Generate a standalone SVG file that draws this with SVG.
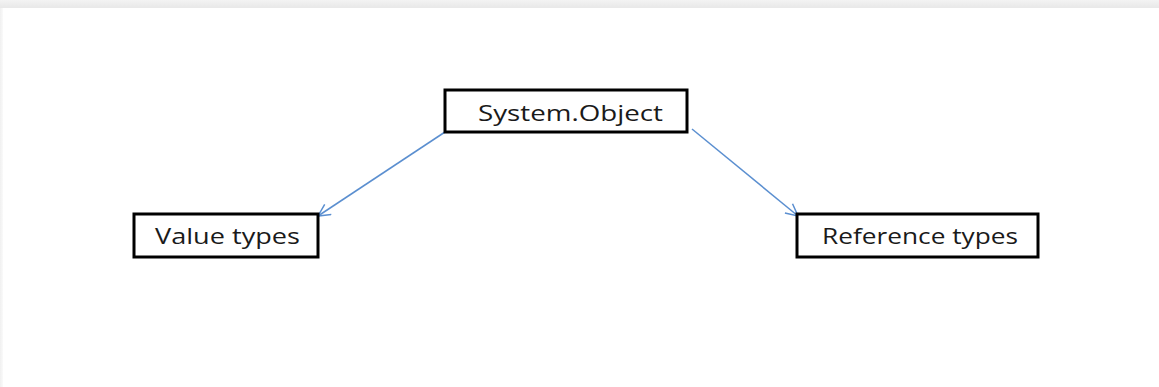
<svg xmlns="http://www.w3.org/2000/svg" width="1159" height="387" viewBox="0 0 1159 387">
<defs>
<linearGradient id="topShade" x1="0" y1="0" x2="0" y2="1">
<stop offset="0" stop-color="#f3f3f3"/>
<stop offset="1" stop-color="#e8e8e8"/>
</linearGradient>
<linearGradient id="leftShade" x1="0" y1="0" x2="1" y2="0">
<stop offset="0" stop-color="#f0f0f0"/>
<stop offset="1" stop-color="#fafafa"/>
</linearGradient>
<marker id="arrow" viewBox="0 0 14 14" refX="13" refY="7" markerWidth="14" markerHeight="14" markerUnits="userSpaceOnUse" orient="auto">
<path d="M1,1 L13,7 L1,13" fill="none" stroke="#5b8fd0" stroke-width="1.5"/>
</marker>
</defs>
<style>
.box{fill:#ffffff;stroke:#000000;stroke-width:3}
.lbl{font-family:"Open Sans","Liberation Sans",sans-serif;font-size:21px;fill:#1a1a1a}
.conn{stroke:#5b8fd0;stroke-width:1.5;fill:none}
</style>
<rect x="0" y="0" width="1159" height="387" fill="#ffffff"/>
<rect x="0" y="0" width="1159" height="8" fill="url(#topShade)"/>
<rect x="0" y="8" width="3" height="379" fill="url(#leftShade)"/>
<g id="connectors">
<line class="conn" x1="445" y1="132" x2="318" y2="216" marker-end="url(#arrow)"/>
<line class="conn" x1="692" y1="129" x2="798" y2="216" marker-end="url(#arrow)"/>
</g>
<g id="node-system-object">
<rect class="box" x="445" y="90" width="242" height="42"/>
<text class="lbl" x="478" y="121" textLength="185" lengthAdjust="spacingAndGlyphs">System.Object</text>
</g>
<g id="node-value-types">
<rect class="box" x="134" y="214" width="184" height="43"/>
<text class="lbl" x="155" y="244" textLength="145" lengthAdjust="spacingAndGlyphs">Value types</text>
</g>
<g id="node-reference-types">
<rect class="box" x="797" y="214" width="241" height="43"/>
<text class="lbl" x="822" y="244" textLength="196" lengthAdjust="spacingAndGlyphs">Reference types</text>
</g>
</svg>
